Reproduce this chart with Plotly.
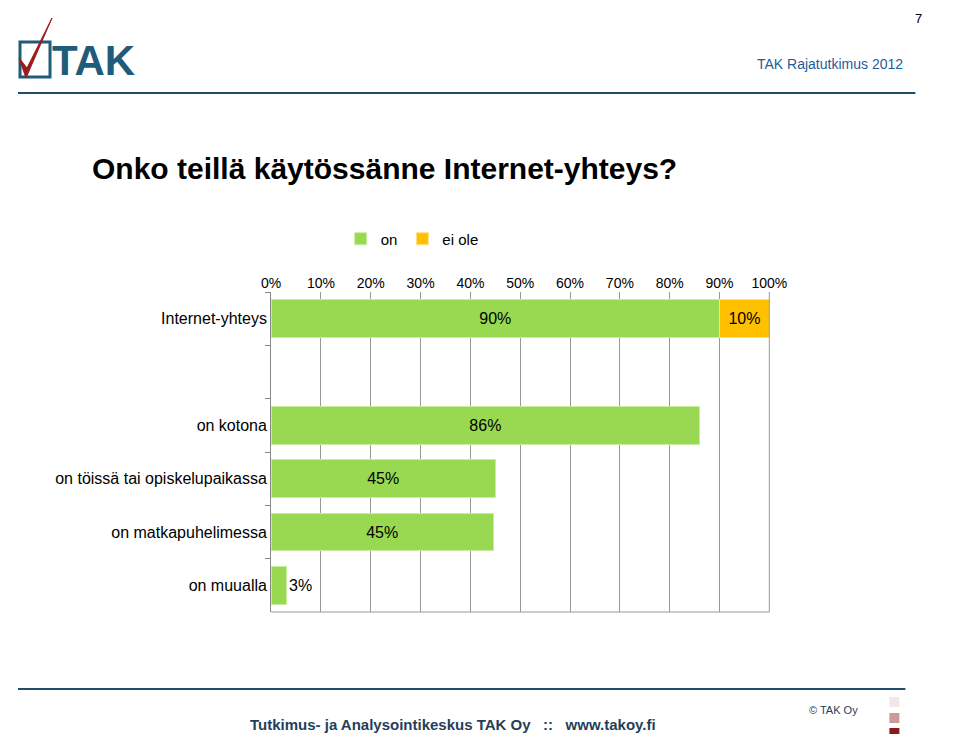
import plotly.graph_objects as go

# page is drawn with a body margin; figure kept a bit smaller than the window
W, H = 944, 726
X0, XS = 18, 915.6   # measured: rendered x = X0 + frac * XS
Y0 = 8

categories = ["Internet-yhteys", " ", "on kotona", "on töissä tai opiskelupaikassa",
              "on matkapuhelimessa", "on muualla"]
on_values = [0.90, None, 0.86, 0.45, 0.446, 0.03]
on_labels = ["90%", "", "86%", "45%", "45%", "3%"]
ei_values = [0.10, None, None, None, None, None]
ei_labels = ["10%", "", "", "", "", ""]
x_ticks = [i / 10 for i in range(11)]
x_ticklabels = [f"{i * 10}%" for i in range(11)]

green = "#99D952"
yellow = "#FFC000"


def px_x(x):
    return (x - X0) / XS


def px_y(y):
    return 1 - (y - Y0) / H


fig = go.Figure()
fig.add_trace(go.Bar(
    y=categories, x=on_values, name="on", orientation="h",
    marker=dict(color=green, line=dict(color="#c8eca0", width=1)),
    text=on_labels, textposition=["inside", "none", "inside", "inside", "inside", "outside"],
    insidetextanchor="middle", textfont=dict(size=16, color="black"),
    width=0.71, cliponaxis=False,
))
fig.add_trace(go.Bar(
    y=categories, x=ei_values, name="ei ole", orientation="h",
    marker=dict(color=yellow, line=dict(color="#ffe08a", width=1)),
    text=ei_labels, textposition="inside", insidetextanchor="middle",
    textfont=dict(size=16, color="black"), width=0.71,
))

fig.update_layout(
    width=W, height=H, barmode="stack",
    margin=dict(l=0, r=0, t=0, b=0),
    plot_bgcolor="white", paper_bgcolor="white",
    font=dict(family="Arial, Liberation Sans", size=16, color="black"),
    xaxis=dict(domain=[px_x(271), px_x(769)], range=[0, 1], side="top",
               tickvals=x_ticks, ticktext=x_ticklabels, tickfont=dict(size=14),
               showgrid=True, gridcolor="#999999", gridwidth=1,
               showline=False, zeroline=False, ticks=""),
    yaxis=dict(domain=[px_y(612), px_y(292)], autorange="reversed",
               showline=True, linecolor="#888888", ticks="outside",
               tickson="boundaries", tickcolor="#888888", ticklen=5,
               tickfont=dict(size=16), showgrid=False),
    legend=dict(orientation="h", x=px_x(412), xanchor="center", y=px_y(239),
                yanchor="middle", font=dict(size=15), traceorder="normal",
                itemwidth=30),
    showlegend=True,
)

shapes = [
    # plot area right/bottom border
    dict(type="line", xref="paper", yref="paper", x0=px_x(769), x1=px_x(769),
         y0=px_y(292), y1=px_y(612), line=dict(color="#999999", width=1)),
    dict(type="line", xref="paper", yref="paper", x0=px_x(271), x1=px_x(769),
         y0=px_y(612), y1=px_y(612), line=dict(color="#999999", width=1)),
    # header / footer rules
    dict(type="line", xref="paper", yref="paper", x0=px_x(18), x1=px_x(915),
         y0=px_y(93), y1=px_y(93), line=dict(color="#1F4E6B", width=2)),
    dict(type="line", xref="paper", yref="paper", x0=px_x(18), x1=px_x(905),
         y0=px_y(689), y1=px_y(689), line=dict(color="#1F4E6B", width=2)),
    # logo box and check
    dict(type="rect", xref="paper", yref="paper", x0=px_x(20), x1=px_x(50),
         y0=px_y(77), y1=px_y(42), line=dict(color="#1F5C7A", width=3)),
    dict(type="path", xref="paper", yref="paper",
         path=f"M {px_x(19)} {px_y(58)} L {px_x(26)} {px_y(78)} L {px_x(52)} {px_y(18)} "
              f"L {px_x(27)} {px_y(68)} Z",
         fillcolor="#9B1C1C", line=dict(color="#9B1C1C", width=1)),
    # footer squares
    dict(type="rect", xref="paper", yref="paper", x0=px_x(889), x1=px_x(899),
         y0=px_y(707), y1=px_y(697), fillcolor="#f2e6e6", line=dict(width=0)),
    dict(type="rect", xref="paper", yref="paper", x0=px_x(889), x1=px_x(899),
         y0=px_y(723), y1=px_y(713), fillcolor="#c89a9a", line=dict(width=0)),
    dict(type="rect", xref="paper", yref="paper", x0=px_x(889), x1=px_x(899),
         y0=px_y(734), y1=px_y(728), fillcolor="#8B1A1A", line=dict(width=0)),
]
fig.update_layout(shapes=shapes)

ann = [
    dict(x=px_x(90), y=px_y(168), text="<b>Onko teillä käytössänne Internet-yhteys?</b>",
         xanchor="left", font=dict(size=30, color="black")),
    dict(x=px_x(50), y=px_y(60), text="<b>TAK</b>", xanchor="left",
         font=dict(size=42, color="#1F5C7A", family="Liberation Sans Narrow, Arial")),
    dict(x=px_x(905), y=px_y(64), text="TAK Rajatutkimus 2012", xanchor="right",
         font=dict(size=14, color="#1F5C9A")),
    dict(x=px_x(924), y=px_y(18), text="7", xanchor="right", font=dict(size=13)),
    dict(x=px_x(453), y=px_y(724),
         text="<b>Tutkimus- ja Analysointikeskus TAK Oy   ::   www.takoy.fi</b>",
         xanchor="center", font=dict(size=15, color="#1F3F5B")),
    dict(x=px_x(860), y=px_y(710), text="© TAK Oy", xanchor="right",
         font=dict(size=11, color="#1F3F5B")),
]
for a in ann:
    a.update(xref="paper", yref="paper", showarrow=False, yanchor="middle")
fig.update_layout(annotations=ann)

fig.write_html("out.html")
